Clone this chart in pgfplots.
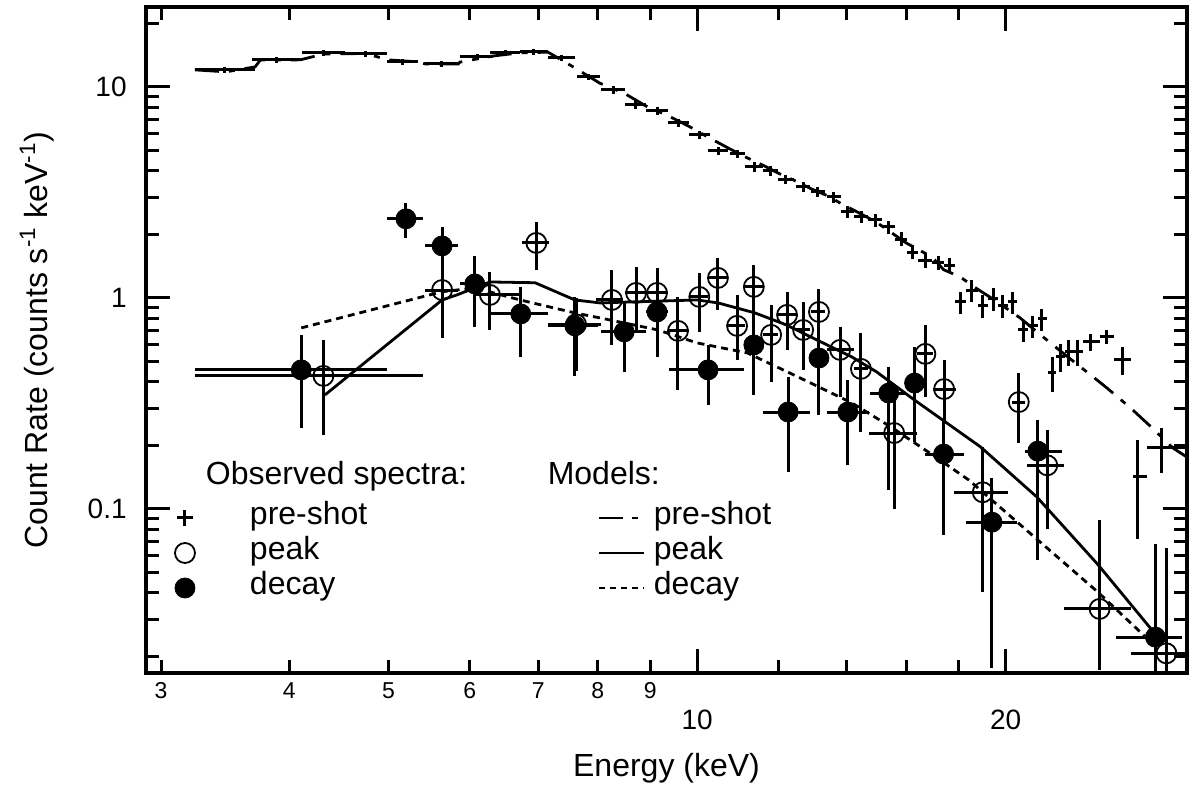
\documentclass[border=0pt]{standalone}
\usepackage{fontspec}
\setmainfont{Liberation Sans}
\usepackage{pgfplots}
\pgfplotsset{compat=1.18}
\usepackage{pgfplotstable}
\pgfplotsset{longline legend/.style={legend image code/.code={\draw[##1] (0bp,0bp) -- (22.5bp,0bp);}}}

\pgfplotstableread{
x xl xh y ye
3.46 3.237 3.706 12.04 0.03
3.89 3.681 4.100 13.43 0.03
4.32 4.118 4.536 14.49 0.03
4.75 4.536 4.985 14.33 0.03
5.16 4.985 5.344 13.14 0.03
5.63 5.428 5.846 12.85 0.03
6.10 5.873 6.324 13.87 0.03
6.50 6.281 6.721 14.49 0.03
6.93 6.721 7.155 14.65 0.03
7.38 7.155 7.603 13.72 0.03
7.83 7.637 8.041 11.15 0.03
8.28 8.059 8.508 9.68 0.04
8.71 8.508 8.918 8.22 0.04
9.14 8.918 9.370 7.70 0.04
9.59 9.370 9.822 6.75 0.04
10.06 9.822 10.30 5.92 0.045
10.49 10.25 10.72 4.98 0.045
10.95 10.77 11.14 4.81 0.045
11.37 11.14 11.60 4.18 0.05
11.79 11.60 11.99 4.00 0.05
12.21 11.99 12.43 3.66 0.05
12.69 12.49 12.89 3.36 0.055
13.12 12.92 13.33 3.18 0.055
13.60 13.39 13.82 3.01 0.06
14.02 13.82 14.23 2.56 0.065
14.46 14.23 14.69 2.42 0.065
14.92 14.69 15.16 2.34 0.07
15.38 15.16 15.61 2.17 0.07
15.82 15.61 16.03 1.90 0.075
16.23 16.03 16.43 1.65 0.075
16.69 16.43 16.96 1.51 0.08
17.19 16.96 17.42 1.47 0.08
17.64 17.42 17.86 1.43 0.08
18.08 17.86 18.30 0.957 0.12
18.54 18.30 18.78 1.09 0.12
19.00 18.78 19.23 0.917 0.12
19.45 19.23 19.66 0.99 0.12
19.87 19.66 20.09 0.917 0.12
20.30 20.09 20.53 0.957 0.12
20.80 20.55 21.03 0.705 0.12
21.26 21.03 21.50 0.737 0.12
21.70 21.50 21.95 0.795 0.12
22.20 22.00 22.40 0.441 0.19
22.60 22.40 22.85 0.526 0.15
23.05 22.85 23.30 0.555 0.14
23.50 23.30 23.80 0.555 0.14
24.20 23.80 24.70 0.619 0.09
25.10 24.70 25.50 0.654 0.08
26.00 25.50 26.50 0.508 0.15
26.90 26.60 27.50 0.142 0.49
28.40 27.50 30.20 0.195 0.24
}\preshot

\pgfplotstableread{
x xl xh y yl yh
4.32 3.237 5.40 0.427 0.224 0.632
5.64 5.43 5.85 1.09 0.646 1.50
6.28 6.06 6.72 1.033 0.705 1.328
6.97 6.75 7.17 1.822 1.357 2.29
7.62 7.16 8.05 0.75 0.45 1.0
8.26 7.97 8.47 0.978 0.599 1.357
8.72 8.51 8.92 1.056 0.705 1.403
9.14 8.92 9.37 1.056 0.526 1.387
9.58 9.37 9.82 0.698 0.366 1.011
10.05 9.82 10.25 1.011 0.69 1.313
10.48 10.25 10.72 1.244 0.877 1.547
10.94 10.72 11.14 0.737 0.508 1.033
11.36 11.14 11.60 1.128 0.705 1.433
11.81 11.60 11.99 0.668 0.40 0.927
12.24 11.99 12.49 0.831 0.567 1.067
12.69 12.49 12.89 0.705 0.456 0.957
13.15 12.92 13.33 0.858 0.508 1.103
13.79 13.39 14.23 0.567 0.34 0.729
14.45 14.23 14.69 0.461 0.232 0.683
15.57 14.70 16.40 0.229 0.10 0.36
16.70 16.40 17.00 0.543 0.34 0.745
17.42 17.00 17.90 0.370 0.26 0.508
19.00 17.80 20.10 0.12 0.0404 0.197
20.60 20.30 20.90 0.321 0.205 0.441
21.96 21.00 22.80 0.161 0.08 0.237
24.70 22.80 26.50 0.0336 0.0173 0.0888
28.70 26.50 30.30 0.0207 0.01 0.0655
}\peak

\pgfplotstableread{
x xl xh y yl yh
4.11 3.237 4.985 0.456 0.242 0.667
5.20 4.985 5.40 2.37 1.92 2.82
5.64 5.43 5.85 1.764 1.387 2.17
6.07 5.87 6.28 1.165 0.729 1.58
6.73 6.30 7.155 0.84 0.526 1.128
7.60 7.155 8.00 0.737 0.427 1.011
8.49 8.06 8.92 0.690 0.446 0.947
9.14 8.92 9.37 0.858 0.599 1.217
10.25 9.39 11.10 0.456 0.311 0.599
11.36 11.14 11.60 0.599 0.347 0.813
12.27 11.60 12.90 0.288 0.15 0.422
13.15 12.92 13.33 0.519 0.279 0.721
14.03 13.40 14.70 0.288 0.162 0.409
15.38 14.75 16.00 0.354 0.123 0.471
16.30 16.00 16.60 0.395 0.208 0.586
17.40 16.70 18.20 0.182 0.0755 0.26
19.40 18.30 20.50 0.0866 0.0177 0.14
21.50 20.90 22.70 0.188 0.0574 0.264
28.00 25.60 29.70 0.0247 0.01 0.0682
}\decay

\pgfplotstableread{
x y
3.237 12.04
3.47 11.78
3.706 12.44
3.75 13.4
4.10 13.43
4.32 14.3
4.75 14.4
4.99 13.43
5.34 13.14
5.43 12.85
5.85 12.85
5.87 13.1
6.32 14.0
6.72 14.5
7.155 14.6
7.60 12.3
8.04 10.4
8.50 9.3
8.92 8.1
9.37 7.3
9.82 6.5
10.3 5.7
10.75 5.1
11.15 4.65
11.6 4.25
12.0 3.9
12.45 3.6
12.9 3.3
13.4 3.05
13.82 2.8
14.23 2.6
14.95 2.29
16.0 1.82
16.96 1.56
17.4 1.36
18.05 1.26
18.7 1.115
19.5 0.978
20.66 0.804
21.75 0.654
22.99 0.526
24.2 0.432
25.1 0.375
26.5 0.30
27.8 0.242
29.1 0.195
30.06 0.176
}\preshotmodel

\pgfplotstableread{
x y
4.335 0.347
5.64 0.978
5.83 1.033
6.28 1.19
6.95 1.18
7.60 0.978
8.04 0.947
10.0 0.978
10.48 0.947
11.39 0.849
12.22 0.745
12.97 0.646
14.16 0.525
14.97 0.446
16.3 0.328
18.9 0.197
21.45 0.114
24.6 0.0546
28.0 0.0255
}\peakmodel

\pgfplotstableread{
x y
4.11 0.721
5.64 1.07
6.07 1.115
6.72 0.978
7.60 0.849
8.04 0.804
9.16 0.705
10.0 0.612
11.19 0.549
12.55 0.422
14.16 0.318
15.45 0.245
16.87 0.184
18.42 0.137
19.75 0.102
24.6 0.0404
27.7 0.0235
}\decaymodel

\newcommand{\lfont}{\fontsize{16bp}{19bp}\selectfont}
\newcommand{\sfont}{\fontsize{11.5bp}{13bp}\selectfont}
\newcommand{\mfont}{\fontsize{14bp}{16bp}\selectfont}
\newcommand{\lowerit}[1]{\raisebox{-14bp}[\height][0pt]{#1}}

\begin{document}
\begin{tikzpicture}
\useasboundingbox (0,0) rectangle (595bp,394.5bp);
\begin{axis}[
  at={(73bp,58bp)}, anchor=south west,
  width=520.5bp, height=333bp, scale only axis,
  xmode=log, ymode=log,
  xmin=2.9, xmax=30.06, ymin=0.0167, ymax=23.9,
  axis line style={line width=2bp},
  tick style={black, line width=1.5bp},
  major tick length=12bp, minor tick length=6.5bp,
  ytick={0.1,1,10}, yticklabels={0.1,1,10},
  minor ytick={0.02,0.03,0.04,0.05,0.06,0.07,0.08,0.09,0.2,0.3,0.4,0.5,0.6,0.7,0.8,0.9,2,3,4,5,6,7,8,9,20},
  xtick={10,20}, xticklabels={\lowerit{\mfont 10},\lowerit{\mfont 20}},
  minor xtick={12,14,16,18},
  extra x ticks={3,4,5,6,7,8,9},
  extra x tick labels={\sfont 3,\sfont 4,\sfont 5,\sfont 6,\sfont 7,\sfont 8,\sfont 9},
  extra x tick style={major tick length=6.5bp},
  xticklabel style={inner sep=0pt, yshift=-4.5bp},
  yticklabel style={inner sep=0pt, xshift=-9.5bp, font=\mfont},
  every axis x label/.style={at={(axis description cs:0.5,-0.1426)}, anchor=center},
  every axis y label/.style={at={(axis description cs:-0.1047,0.5)}, rotate=90, anchor=center},
  label style={font=\lfont},
  xlabel={Energy (keV)},
  ylabel={Count Rate (counts s\textsuperscript{-1} keV\textsuperscript{-1})},
  legend columns=2,
  legend cell align=left,
  legend style={at={(axis description cs:0.0211,0.3116)}, anchor=north west,
    draw=none, fill=none, inner sep=0pt, outer sep=0pt,
    font=\lfont, column sep=0pt, row sep=0pt,
    nodes={inner sep=0pt, text height=12bp, text depth=5.5bp},
    /tikz/column 1/.style={column sep=27.5bp},
    /tikz/column 2/.style={column sep=115.3bp},
    /tikz/column 3/.style={column sep=4bp}},
]
% models
\addplot[forget plot, black, line width=1.4bp, dash pattern=on 12bp off 5bp on 3bp off 5bp] table {\preshotmodel};
\addplot[forget plot, black, line width=1.4bp] table {\peakmodel};
\addplot[forget plot, black, line width=1.4bp, dash pattern=on 3.5bp off 2.5bp] table {\decaymodel};
% pre-shot data
\addplot[forget plot, draw=none, mark=none,
  error bars/.cd, x dir=both, x explicit, y dir=both, y explicit relative,
  error mark=none, error bar style={draw=black, line width=1.5bp, solid}]
  table[x=x, y=y, x error plus expr=\thisrow{xh}-\thisrow{x}, x error minus expr=\thisrow{x}-\thisrow{xl}, y error=ye] {\preshot};
% peak data
\addplot[forget plot, only marks, mark=o, mark size=5bp, mark options={black, line width=0.9bp, solid, fill=none},
  error bars/.cd, x dir=both, x explicit, y dir=both, y explicit,
  error mark=none, error bar style={black, line width=1.5bp, solid}]
  table[x=x, y=y, x error plus expr=\thisrow{xh}-\thisrow{x}, x error minus expr=\thisrow{x}-\thisrow{xl},
        y error plus expr=\thisrow{yh}-\thisrow{y}, y error minus expr=\thisrow{y}-\thisrow{yl}] {\peak};
% decay data
\addplot[forget plot, only marks, mark=*, mark size=5bp, mark options={black, fill=black, solid},
  error bars/.cd, x dir=both, x explicit, y dir=both, y explicit,
  error mark=none, error bar style={black, line width=1.5bp, solid}]
  table[x=x, y=y, x error plus expr=\thisrow{xh}-\thisrow{x}, x error minus expr=\thisrow{x}-\thisrow{xl},
        y error plus expr=\thisrow{yh}-\thisrow{y}, y error minus expr=\thisrow{y}-\thisrow{yl}] {\decay};
% legend
\addlegendimage{empty legend}
\addlegendentry{\rlap{\raisebox{2.5bp}{\hspace*{-22.5bp}Observed spectra:}}}
\addlegendimage{empty legend}
\addlegendentry{\rlap{\raisebox{2.5bp}{\hspace*{-53.5bp}Models:}}}
\addlegendimage{only marks, mark=+, mark size=3.8bp, mark options={black, line width=1.5bp}}
\addlegendentry{pre-shot}
\addlegendimage{black, line width=1.4bp, dash pattern=on 12bp off 4.5bp on 3bp off 4bp, longline legend}
\addlegendentry{pre-shot}
\addlegendimage{only marks, mark=o, mark size=5bp, mark options={black, line width=0.9bp}}
\addlegendentry{peak}
\addlegendimage{black, line width=1.4bp, longline legend}
\addlegendentry{peak}
\addlegendimage{only marks, mark=*, mark size=5bp, mark options={black, fill=black}}
\addlegendentry{decay}
\addlegendimage{black, line width=1.4bp, dash pattern=on 3bp off 2.5bp, longline legend}
\addlegendentry{decay}
\end{axis}
\end{tikzpicture}
\end{document}
